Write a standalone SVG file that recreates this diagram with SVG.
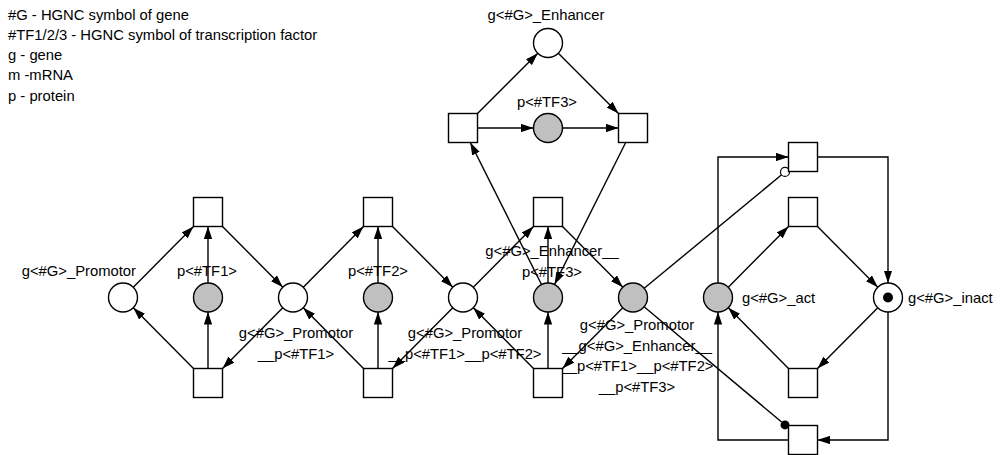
<svg xmlns="http://www.w3.org/2000/svg" width="1002" height="455" viewBox="0 0 1002 455">
<style>
text{font-family:"Liberation Sans",Arial,sans-serif;font-size:14.8px;fill:#000}
.m{text-anchor:middle}
.e{text-anchor:end}
.pl{fill:#fff;stroke:#000;stroke-width:1.4}
.pg{fill:#c0c0c0;stroke:#000;stroke-width:1.4}
.tr{fill:#fff;stroke:#000;stroke-width:1.4}
.a{fill:none;stroke:#000;stroke-width:1.4;marker-end:url(#ah)}
.n{fill:none;stroke:#000;stroke-width:1.4}
</style>
<defs>
<marker id="ah" viewBox="0 0 12 8" refX="12" refY="4" markerWidth="12.5" markerHeight="8.5" markerUnits="userSpaceOnUse" orient="auto">
<path d="M0,0 L12,4 L0,8 z" fill="#000"/>
</marker>
</defs>
<rect width="1002" height="455" fill="#fff"/>
<g id="legend">
<text x="8" y="19.5">#G - HGNC symbol of gene</text>
<text x="8" y="39.8">#TF1/2/3 - HGNC symbol of transcription factor</text>
<text x="8" y="60">g - gene</text>
<text x="8" y="80.3">m -mRNA</text>
<text x="8" y="100.5">p - protein</text>
</g>
<g id="connectors">
<path class="a" d="M133.3,287.2 L193.5,226.5"/>
<path class="a" d="M208,283 L208,226.5"/>
<path class="a" d="M222.5,226.5 L282.8,287.2"/>
<path class="a" d="M193.5,368.5 L133.3,307.8"/>
<path class="a" d="M208,368.5 L208,312"/>
<path class="a" d="M282.8,307.8 L222.5,368.5"/>
<path class="a" d="M303.3,287.2 L363.5,226.5"/>
<path class="a" d="M378,283 L378,226.5"/>
<path class="a" d="M392.5,226.5 L452.8,287.2"/>
<path class="a" d="M363.5,368.5 L303.3,307.8"/>
<path class="a" d="M378,368.5 L378,312"/>
<path class="a" d="M452.8,307.8 L392.5,368.5"/>
<path class="a" d="M473.3,287.2 L533.5,226.5"/>
<path class="a" d="M548,283 L548,226.5"/>
<path class="a" d="M562.5,226.5 L622.8,287.2"/>
<path class="a" d="M533.5,368.5 L473.3,307.8"/>
<path class="a" d="M548,368.5 L548,312"/>
<path class="a" d="M622.8,307.8 L562.5,368.5"/>
<path class="a" d="M477.5,113.5 L537.8,53.3"/>
<path class="a" d="M477.5,128 L533.5,128"/>
<path class="a" d="M558.3,53.3 L618.5,113.5"/>
<path class="a" d="M562.5,128 L618.5,128"/>
<path class="a" d="M625.7,142.5 L554.5,284.5"/>
<path class="a" d="M541.5,284.5 L470.3,142.5"/>
<path class="a" d="M728.3,287.2 L788.5,226.5"/>
<path class="a" d="M817.5,226.5 L877.8,287.2"/>
<path class="a" d="M877.8,307.8 L817.5,368.5"/>
<path class="a" d="M788.5,368.5 L728.3,307.8"/>
<path class="a" d="M718,283 L718,157 L788.5,157"/>
<path class="a" d="M817.5,157 L888,157 L888,283"/>
<path class="a" d="M888,312 L888,440 L817.5,440"/>
<path class="a" d="M788.5,440 L718,440 L718,312"/>
<path class="n" d="M644.2,288.3 L781.6,174.8"/>
<circle cx="785" cy="171.9" r="4.5" fill="#fff" stroke="#000" stroke-width="1.2"/>
<path class="n" d="M644.1,306.8 L781.6,422"/>
<circle cx="785" cy="424.9" r="4.5" fill="#000"/>
</g>
<g id="p_promotor">
<circle class="pl" cx="123" cy="297.5" r="14.5"/>
<text class="e" x="136" y="276">g&lt;#G&gt;_Promotor</text>
</g>
<g id="p_tf1">
<circle class="pg" cx="208" cy="297.5" r="14.5"/>
<text class="m" x="207" y="276">p&lt;#TF1&gt;</text>
</g>
<g id="p_promotor_tf1">
<circle class="pl" cx="293" cy="297.5" r="14.5"/>
<text class="m" x="296" y="338">g&lt;#G&gt;_Promotor</text>
<text class="m" x="296" y="358.5">__p&lt;#TF1&gt;</text>
</g>
<g id="p_tf2">
<circle class="pg" cx="378" cy="297.5" r="14.5"/>
<text class="m" x="378" y="276">p&lt;#TF2&gt;</text>
</g>
<g id="p_promotor_tf1_tf2">
<circle class="pl" cx="463" cy="297.5" r="14.5"/>
<text class="m" x="465" y="338">g&lt;#G&gt;_Promotor</text>
<text class="m" x="465" y="358.5">__p&lt;#TF1&gt;__p&lt;#TF2&gt;</text>
</g>
<g id="p_enhancer_tf3">
<circle class="pg" cx="548" cy="297.5" r="14.5"/>
<text class="m" x="552" y="256">g&lt;#G&gt;_Enhancer__</text>
<text class="m" x="552" y="277">p&lt;#TF3&gt;</text>
</g>
<g id="p_complex">
<circle class="pg" cx="633" cy="297.5" r="14.5"/>
<text class="m" x="637" y="330">g&lt;#G&gt;_Promotor</text>
<text class="m" x="637" y="350.5">__g&lt;#G&gt;_Enhancer__</text>
<text class="m" x="637" y="371">__p&lt;#TF1&gt;__p&lt;#TF2&gt;</text>
<text class="m" x="637" y="391.5">__p&lt;#TF3&gt;</text>
</g>
<g id="p_act">
<circle class="pg" cx="718" cy="297.5" r="14.5"/>
<text x="742" y="303">g&lt;#G&gt;_act</text>
</g>
<g id="p_inact">
<circle class="pl" cx="888" cy="297.5" r="14.5"/>
<circle cx="888" cy="297.5" r="5" fill="#000"/>
<text x="908" y="303">g&lt;#G&gt;_inact</text>
</g>
<g id="p_enhancer">
<circle class="pl" cx="548" cy="43" r="14.5"/>
<text class="m" x="546" y="20">g&lt;#G&gt;_Enhancer</text>
</g>
<g id="p_tf3">
<circle class="pg" cx="548" cy="128" r="14.5"/>
<text class="m" x="547" y="107">p&lt;#TF3&gt;</text>
</g>
<g id="t1_bind"><rect class="tr" x="193.5" y="197.5" width="29" height="29"/></g>
<g id="t1_unbind"><rect class="tr" x="193.5" y="368.5" width="29" height="29"/></g>
<g id="t2_bind"><rect class="tr" x="363.5" y="197.5" width="29" height="29"/></g>
<g id="t2_unbind"><rect class="tr" x="363.5" y="368.5" width="29" height="29"/></g>
<g id="t3_bind"><rect class="tr" x="533.5" y="197.5" width="29" height="29"/></g>
<g id="t3_unbind"><rect class="tr" x="533.5" y="368.5" width="29" height="29"/></g>
<g id="te_unbind"><rect class="tr" x="448.5" y="113.5" width="29" height="29"/></g>
<g id="te_bind"><rect class="tr" x="618.5" y="113.5" width="29" height="29"/></g>
<g id="tr_inhib"><rect class="tr" x="788.5" y="142.5" width="29" height="29"/></g>
<g id="tr_deact"><rect class="tr" x="788.5" y="197.5" width="29" height="29"/></g>
<g id="tr_act"><rect class="tr" x="788.5" y="368.5" width="29" height="29"/></g>
<g id="tr_read"><rect class="tr" x="788.5" y="425.5" width="29" height="29"/></g>
</svg>
